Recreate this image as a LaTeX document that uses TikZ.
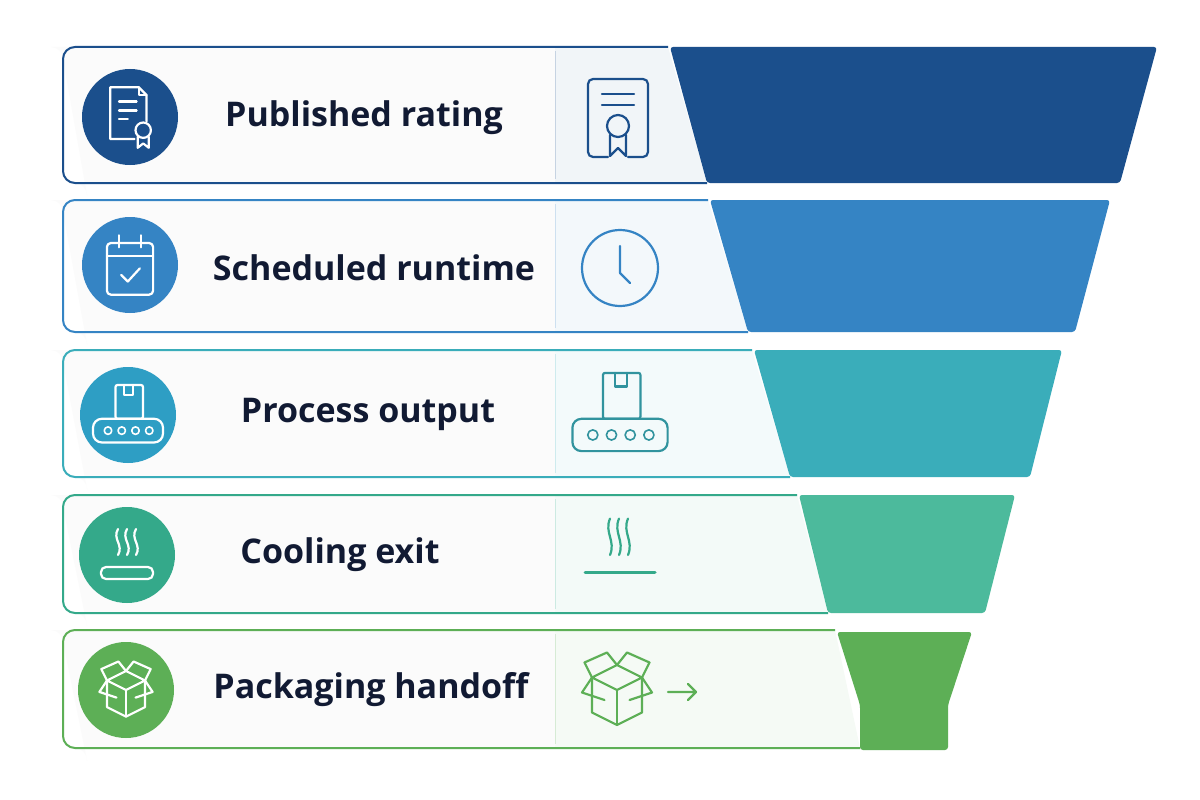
\documentclass[tikz,border=0pt]{standalone}
\usepackage{fontspec}
\setmainfont{Open Sans}
\definecolor{cA}{HTML}{1B4F8C}
\definecolor{cB}{HTML}{3584C4}
\definecolor{cC}{HTML}{3AADBA}
\definecolor{cCc}{HTML}{2E9EC4}
\definecolor{cD}{HTML}{4CBA9C}
\definecolor{cDc}{HTML}{34A98A}
\definecolor{cE}{HTML}{5DAF56}
\definecolor{txt}{HTML}{111A33}
\begin{document}
\begin{tikzpicture}[x=1pt,y=-1pt,
  lbl/.style={font=\bfseries\fontsize{34}{38}\selectfont,text=txt,anchor=center},
  ic/.style={line width=2.2pt,line cap=round,line join=round},
  wic/.style={ic,white},
  circ/.style={circle,minimum size=96pt,inner sep=0pt}]
\useasboundingbox[fill=white] (0,0) rectangle (1200,800);
\newcommand\mycard[5]{%
  \fill[#5!6] (555,#1) -- (#3,#1) -- (#4,#2) -- (555,#2) -- cycle;
  \fill[white!97!gray] (75,#1) -- (555,#1) -- (555,#2) -- (75,#2) arc[start angle=90,end angle=180,radius=-12] -- (63,#1+12) arc[start angle=180,end angle=90,radius=-12];
  \draw[#5!25,line width=1pt] (555,#1+4) -- (555,#2-4);
  \draw[#5,line width=2pt] (#3,#1) -- (75,#1) arc[start angle=270,end angle=180,radius=12] -- (63,#2-12) arc[start angle=180,end angle=90,radius=12] -- (#4,#2);}
\mycard{47}{183}{668}{707}{cA}
\mycard{200}{332}{708}{748}{cB}
\mycard{350}{477}{752}{790}{cC}
\mycard{495}{613}{797}{828}{cDc}
\mycard{630}{748}{835}{860}{cE}
% funnel
\fill[cA,rounded corners=3pt] (670,47) -- (1157,47) -- (1120,183) -- (707,183) -- cycle;
\fill[cB,rounded corners=3pt] (710,200) -- (1110,200) -- (1075,332) -- (748,332) -- cycle;
\fill[cC,rounded corners=3pt] (754,350) -- (1062,350) -- (1030,477) -- (790,477) -- cycle;
\fill[cD,rounded corners=3pt] (799,495) -- (1015,495) -- (985,613) -- (828,613) -- cycle;
\fill[cE,rounded corners=3pt] (837,632) -- (972,632) -- (948,705) -- (948,750) -- (860,750) -- (860,705) -- cycle;
% circles
\node[circ,fill=cA] (c1) at (130,117) {};
\node[circ,fill=cB] (c2) at (130,265) {};
\node[circ,fill=cCc] (c3) at (128,415) {};
\node[circ,fill=cDc] (c4) at (127,555) {};
\node[circ,fill=cE] (c5) at (126,690) {};
% labels
\node[lbl] (t1) at (364,118) {Published rating};
\node[lbl] (t2) at (374,268) {Scheduled runtime};
\node[lbl] (t3) at (368,414) {Process output};
\node[lbl] (t4) at (340,555) {Cooling exit};
\node[lbl] (t5) at (371,690) {Packaging handoff};
% icon 1 left
\begin{scope}[shift={(c1.center)},scale=1.1]
\draw[wic] (4,20) -- (-18,20) -- (-18,-27) -- (8,-27) -- (15,-20) -- (15,4);
\draw[wic] (8,-27) -- (8,-20) -- (15,-20);
\draw[wic] (-10,-14) -- (6,-14) (-10,-6) -- (6,-6) (-10,2) -- (-2,2);
\draw[wic] (12,12) circle (7);
\draw[wic] (7,18) -- (7,28) -- (12,24) -- (17,28) -- (17,18);
\end{scope}
% icon 1 right
\begin{scope}[shift={(618,118)}]
\draw[ic,cA,rounded corners=5pt] (-10,39) -- (-30,39) -- (-30,-39) -- (30,-39) -- (30,39) -- (10,39);
\draw[ic,cA] (-16,-24) -- (16,-24) (-16,-13) -- (16,-13);
\draw[ic,cA] (0,8) circle (11);
\draw[ic,cA] (-8,17) -- (-8,38) -- (0,30) -- (8,38) -- (8,17);
\end{scope}
% icon 2 left
\begin{scope}[shift={(c2.center)},scale=1.1]
\draw[wic,rounded corners=4pt] (-21,-20) rectangle (21,27);
\draw[wic] (-21,-8) -- (21,-8) (-10,-27) -- (-10,-16) (10,-27) -- (10,-16);
\draw[wic] (-8,9) -- (-2,15) -- (9,3);
\end{scope}
% icon 2 right
\begin{scope}[shift={(620,268)}]
\draw[ic,cB] (0,0) circle (38);
\draw[ic,cB] (0,-22) -- (0,5) -- (10,15);
\end{scope}
% icon 3
\newcommand\myconv[1]{%
  \draw[#1,rounded corners=2pt] (-10,-27) rectangle (12,0);
  \draw[#1] (-3,-27) -- (-3,-19) -- (4,-19) -- (4,-27);
  \draw[#1,rounded corners=9pt] (-28,0) rectangle (28,19);
  \foreach \x in {-16,-5,6,17} \draw[#1,line width=1.6pt] (\x,9.5) circle (3);}
\begin{scope}[shift={(c3.center)},scale=1.25,shift={(0,3)}] \myconv{wic} \end{scope}
\begin{scope}[shift={(620,412)},scale=1.7,shift={(0,4)}] \myconv{ic,cC!85!black} \end{scope}
% icon 4
\newcommand\mysteam[1]{%
  \foreach \x in {-9,0,9} \draw[#1] (\x,-26) .. controls (\x-6,-16) and (\x+6,-10) .. (\x,0);}
\begin{scope}[shift={(c4.center)}]
\mysteam{wic}
\draw[wic,rounded corners=5pt] (-26,12) rectangle (26,24);
\end{scope}
\begin{scope}[shift={(620,555)}]
\begin{scope}[shift={(-1,0)},yscale=1.4]\mysteam{ic,cDc}\end{scope}
\draw[ic,cDc,line width=3pt] (-35,17) -- (35,17);
\end{scope}
% icon 5
\newcommand\mybox[1]{%
  \draw[#1] (-20,-10) -- (0,-20) -- (20,-10) -- (0,0) -- cycle;
  \draw[#1] (-20,-10) -- (-20,18) -- (0,28) -- (20,18) -- (20,-10);
  \draw[#1] (0,0) -- (0,28);
  \draw[#1] (-20,-10) -- (-26,-22) -- (-8,-30) -- (0,-20);
  \draw[#1] (20,-10) -- (26,-22) -- (8,-30) -- (0,-20);
  \draw[#1] (-20,-10) -- (-28,2) -- (-10,8);
  \draw[#1] (20,-10) -- (28,2) -- (10,8);}
\begin{scope}[shift={(c5.center)},scale=0.95] \mybox{wic} \end{scope}
\begin{scope}[shift={(617,690)},scale=1.25] \mybox{ic,cE} \end{scope}
\draw[ic,cE] (668,692) -- (696,692) (688,684) -- (696,692) -- (688,700);
\end{tikzpicture}
\end{document}
